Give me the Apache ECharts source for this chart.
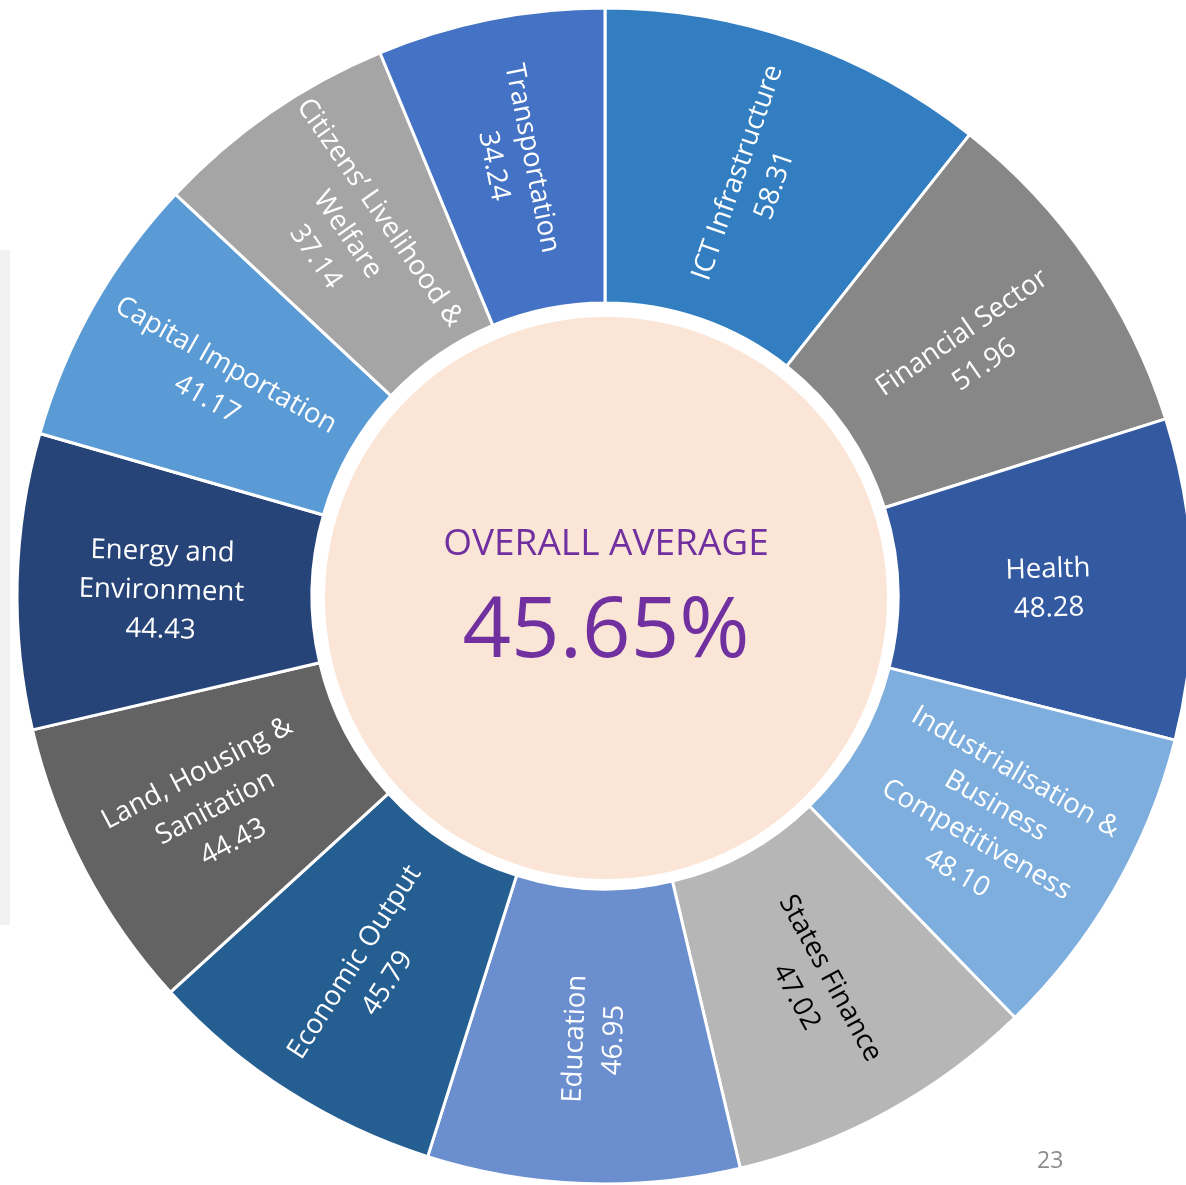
<!DOCTYPE html>
<html>
<head>
<meta charset="utf-8">
<title>Overall Average</title>
<script src="https://cdn.jsdelivr.net/npm/echarts@6/dist/echarts.min.js"></script>
<style>
  html, body { margin: 0; padding: 0; background: #fff; }
  #chart { width: 1186px; height: 1185px; }
</style>
</head>
<body>
<div id="chart"></div>
<script>
// clockwise from 12 o'clock
const categories = [
  'ICT Infrastructure',
  'Financial Sector',
  'Health',
  'Industrialisation &\nBusiness\nCompetitiveness',
  'States Finance',
  'Education',
  'Economic Output',
  'Land, Housing &\nSanitation',
  'Energy and\nEnvironment',
  'Capital Importation',
  'Citizens\u2019 Livelihood &\nWelfare',
  'Transportation'
]
const scores = [58.31, 51.96, 48.28, 48.10, 47.02, 46.95, 45.79, 44.43, 44.43, 41.17, 37.14, 34.24]
const overallAverage = 45.65
const pageNumber = '23'

const palette = ['#327EC1', '#878787', '#335AA1', '#7DAEDE', '#B6B6B6', '#6A8ECE',
  '#255E91', '#636363', '#264478', '#5B9BD5', '#A5A5A5', '#4472C4']

const chart = echarts.init(document.getElementById('chart'))

const seriesData = categories.map((name, i) => {
  const item = { name: name, value: scores[i] }
  // the light grey slice has dark text
  if (name === 'States Finance') {
    item.label = { color: '#000' }
  }
  return item
})

const option = {
  animation: false,
  color: palette,
  title: [
    {
      text: pageNumber,
      left: 1032,
      top: 1145,
      textStyle: { fontFamily: 'Open Sans', fontSize: 23, fontWeight: 'normal', color: '#8C8C8C' }
    }
  ],
  graphic: [
    // faint panel edge peeking in on the left
    { type: 'rect', shape: { x: 0, y: 250, width: 10, height: 675 }, style: { fill: '#F2F2F2' }, z: -1 }
  ],
  series: [
    {
      type: 'pie',
      center: [605, 596],
      radius: [293, 588],
      startAngle: 90,
      clockwise: true,
      silent: true,
      itemStyle: { borderColor: '#fff', borderWidth: 3 },
      label: {
        show: true,
        position: 'inside',
        rotate: 'radial',
        color: '#fff',
        fontFamily: 'Open Sans',
        fontSize: 27.6,
        lineHeight: 39,
        formatter: p => p.name + '\n' + p.value.toFixed(2)
      },
      // labels sit a little low in the original
      labelLayout: { dy: 6 },
      labelLine: { show: false },
      data: seriesData
    },
    {
      // peach disc in the middle
      type: 'pie',
      center: [606, 598],
      radius: [0, 281],
      silent: true,
      itemStyle: { color: '#FBE5D6' },
      label: {
        show: true,
        position: 'center',
        formatter: '{a|OVERALL AVERAGE}\n{b|' + overallAverage.toFixed(2) + '%}',
        rich: {
          a: { fontFamily: 'Open Sans', fontSize: 37, lineHeight: 70, color: '#7030A0' },
          b: { fontFamily: 'Open Sans', fontSize: 85, lineHeight: 108, color: '#7030A0' }
        }
      },
      labelLine: { show: false },
      data: [{ name: 'average', value: 1 }]
    }
  ]
}

chart.setOption(option)
</script>
</body>
</html>
